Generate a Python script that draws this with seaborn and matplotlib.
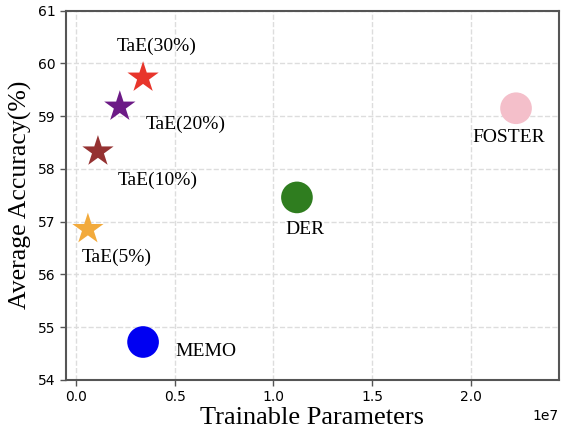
import matplotlib
matplotlib.use("Agg")
import matplotlib.pyplot as plt
import seaborn as sns
import pandas as pd

# Trainable parameter count vs. average accuracy for each method
methods = ["TaE(30%)", "TaE(20%)", "TaE(10%)", "TaE(5%)", "DER", "FOSTER", "MEMO"]
params = [3.38e6, 2.2e6, 1.09e6, 0.58e6, 11.19e6, 22.31e6, 3.38e6]
accuracy = [59.73, 59.18, 58.33, 56.86, 57.46, 59.15, 54.72]
markers = ["*", "*", "*", "*", "o", "o", "o"]
colors = ["#e8352b", "#6c1a86", "#953232", "#f2aa3c", "#2f7d1f", "#f4bfca", "#0000f2"]

df = pd.DataFrame({"method": methods, "params": params, "acc": accuracy})

# label offsets in pixels from each marker (dx, dy), and horizontal alignment
label_offsets = {
    "TaE(30%)": (14, 31, "center"),
    "TaE(20%)": (26, -18, "left"),
    "TaE(10%)": (20, -29, "left"),
    "TaE(5%)": (-6, -28, "left"),
    "DER": (-12, -32, "left"),
    "FOSTER": (-44, -29, "left"),
    "MEMO": (32, -10, "left"),
}

sns.set_style("white")
fig = plt.figure(figsize=(5.61, 4.30), dpi=100)
ax = fig.add_axes([0.1176, 0.1163, 0.8788, 0.859])

for i, row in df.iterrows():
    sns.scatterplot(x=[row["params"]], y=[row["acc"]], ax=ax, marker=markers[i],
                    s=560 if markers[i] == "*" else 520, color=colors[i],
                    edgecolor="none", linewidth=0, legend=False, zorder=3)

for m, x, y in zip(methods, params, accuracy):
    dx, dy, ha = label_offsets[m]
    ax.annotate(m, (x, y), xytext=(dx, dy), textcoords="offset pixels",
                ha=ha, va="center", fontsize=14, family="Liberation Serif",
                color="black")

ax.set_xlim(-0.0533e7, 2.449e7)
ax.set_ylim(54, 61)
ax.set_xticks([0, 0.5e7, 1.0e7, 1.5e7, 2.0e7])
ax.set_yticks(range(54, 62))
ax.grid(True, linestyle="--", color="#dddddd", linewidth=1.0, zorder=0)
ax.set_axisbelow(True)

for sp in ax.spines.values():
    sp.set_color("#555555")
    sp.set_linewidth(1.5)

ax.tick_params(axis="both", which="major", length=4, width=1, color="#555555",
               labelsize=10, labelcolor="black", direction="out",
               bottom=True, left=True)
ax.xaxis.get_offset_text().set_fontsize(10)
ax.xaxis.get_offset_text().set_color("black")

ax.set_xlabel("Trainable Parameters", fontsize=19, family="Liberation Serif",
              color="black", labelpad=2)
ax.set_ylabel("Average Accuracy(%)", fontsize=18.5, family="Liberation Serif",
              color="black", labelpad=4)

fig.savefig("out.png", dpi=100)
